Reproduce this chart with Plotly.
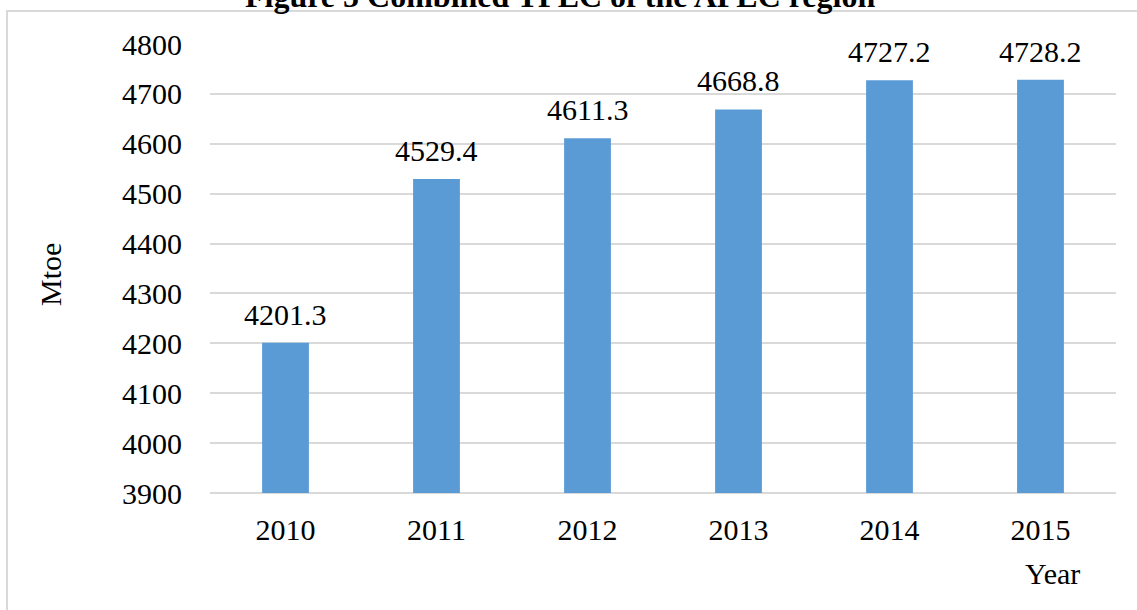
import plotly.graph_objects as go

years = ["2010", "2011", "2012", "2013", "2014", "2015"]
values = [4201.3, 4529.4, 4611.3, 4668.8, 4727.2, 4728.2]
labels = ["4201.3", "4529.4", "4611.3", "4668.8", "4727.2", "4728.2"]
y_ticks = [3900, 4000, 4100, 4200, 4300, 4400, 4500, 4600, 4700, 4800]

W, H = 1137, 610
L, R, T, B = 210, 21, 44, 117
pw, ph = W - L - R, H - T - B

def px(x):
    return (x - L) / pw

def py(y):
    return (H - B - y) / ph

FONT = "Liberation Serif"

fig = go.Figure()
fig.add_trace(go.Bar(
    x=years, y=values, base=0,
    marker=dict(color="#5b9bd5", line=dict(width=0)),
    width=0.31,
))

for i, (v, lab) in enumerate(zip(values, labels)):
    fig.add_annotation(x=i, y=v, xref="x", yref="y", text=lab, showarrow=False,
                       xanchor="center", yanchor="bottom", yshift=10,
                       font=dict(family=FONT, size=30, color="#000000"))

fig.update_layout(
    width=W, height=H,
    margin=dict(l=L, r=R, t=T, b=B),
    paper_bgcolor="white", plot_bgcolor="white",
    showlegend=False,
    font=dict(family=FONT, size=30, color="#000000"),
    xaxis=dict(type="category", range=[-0.5, 5.5], showgrid=False, showline=False, ticks="",
               tickfont=dict(family=FONT, size=30), ticklabelstandoff=16),
    yaxis=dict(range=[3900, 4800], tickvals=y_ticks, showgrid=True,
               gridcolor="#d9d9d9", gridwidth=2, zeroline=False, showline=False,
               ticks="", tickfont=dict(family=FONT, size=30), ticklabelstandoff=27),
)

fig.add_shape(type="line", xref="paper", yref="paper",
              x0=0, x1=1, y0=0, y1=0, line=dict(color="#d9d9d9", width=2), layer="below")

# outer border
fig.add_shape(type="rect", xref="paper", yref="paper",
              x0=px(7), x1=px(1150), y0=py(11), y1=py(640),
              line=dict(color="#d9d9d9", width=2), fillcolor="rgba(0,0,0,0)", layer="below")

fig.add_annotation(text="<b>Figure 5 Combined TPEC of the APEC region</b>",
                   xref="paper", yref="paper", x=px(560), y=py(16),
                   xanchor="center", yanchor="bottom", showarrow=False,
                   font=dict(family=FONT, size=32, color="#000000"))
fig.add_annotation(text="Mtoe", xref="paper", yref="paper", x=px(50), y=py(275),
                   xanchor="center", yanchor="middle", textangle=-90, showarrow=False,
                   font=dict(family=FONT, size=30, color="#000000"))
fig.add_annotation(text="Year", xref="paper", yref="paper", x=px(1082), y=py(573),
                   xanchor="right", yanchor="middle", showarrow=False,
                   font=dict(family=FONT, size=30, color="#000000"))

fig.write_html("out.html", config={"displayModeBar": False},
               post_script="document.body.style.margin='0';document.body.style.overflow='hidden';")
